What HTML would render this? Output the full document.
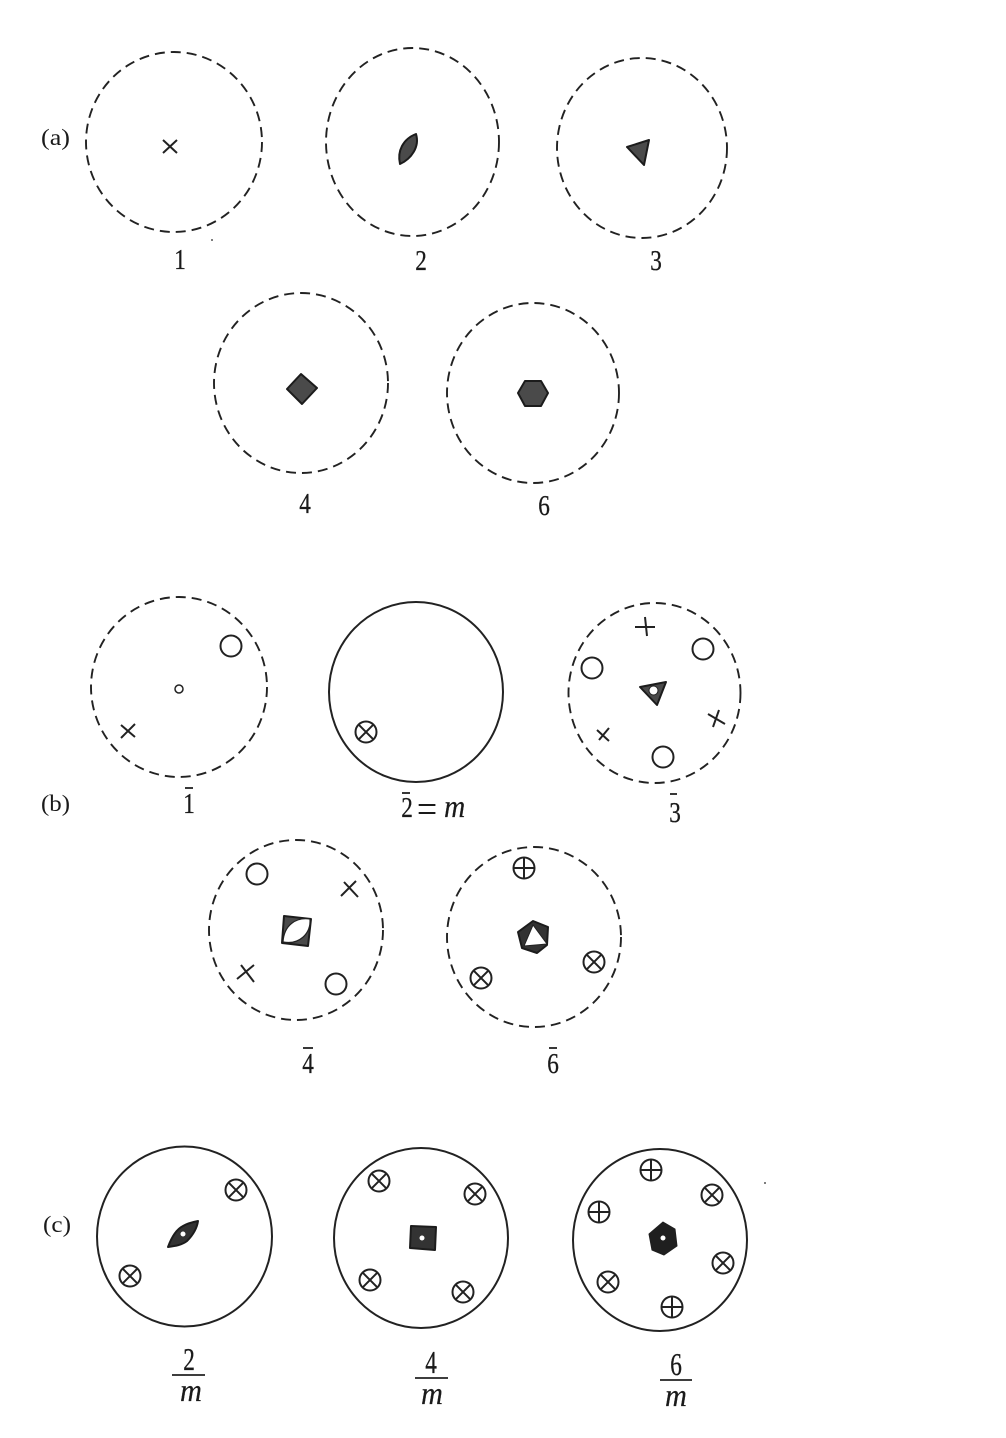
<!DOCTYPE html>
<html><head><meta charset="utf-8"><style>
html,body{margin:0;padding:0;background:#fff}
svg{display:block}
text{font-family:"Liberation Serif",serif;fill:#1a1a1a}
.n{font-size:29px;text-anchor:middle;stroke:#1a1a1a;stroke-width:.3}
.l{font-size:23px}
.i{font-style:italic;font-size:32px;stroke:#1a1a1a;stroke-width:.2}
.d{fill:none;stroke:#222;stroke-width:1.9;stroke-dasharray:10 6}
.s{fill:none;stroke:#222;stroke-width:2}
.o{fill:#fff;stroke:#222;stroke-width:2}
.k{fill:#4a4a4a;stroke:#1c1c1c;stroke-width:2;stroke-linejoin:round}
.x{stroke:#222;stroke-width:2;fill:none}
.b{stroke:#222;stroke-width:1.8;fill:none}
</style></head><body>
<svg width="1006" height="1438" viewBox="0 0 1006 1438" xmlns="http://www.w3.org/2000/svg">
<defs>
<g id="cx"><circle r="10.5" class="o"/><path class="x" d="M-7.4-7.4L7.4 7.4M7.4-7.4L-7.4 7.4"/></g>
<g id="cp"><circle r="10.5" class="o"/><path class="x" d="M-10.5 0H10.5M0-10.5V10.5"/></g>
</defs>

<!-- (a) -->
<text class="l" x="41" y="145" textLength="29" lengthAdjust="spacingAndGlyphs">(a)</text>
<ellipse class="d" cx="174" cy="142" rx="88" ry="90"/>
<path class="x" d="M163 140L177 153M177 140L163 153"/>
<ellipse class="d" cx="412.5" cy="142" rx="86.5" ry="94"/>
<path class="k" d="M416 134C420 147 411 159 400 164C397 151 403 139 416 134Z"/>
<ellipse class="d" cx="642" cy="148" rx="85" ry="90"/>
<path class="k" d="M627 147L649 140L644 165Z"/>
<ellipse class="d" cx="301" cy="383" rx="87" ry="90"/>
<path class="k" d="M301 374L317 388L302 404L287 389Z"/>
<ellipse class="d" cx="533" cy="393" rx="86" ry="90"/>
<path class="k" d="M525 381H541L548 393L541 406H525L518 393Z"/>
<text class="n" transform="translate(180 269) scale(.8 1)">1</text>
<text class="n" transform="translate(421 270) scale(.8 1)">2</text>
<text class="n" transform="translate(656 270) scale(.8 1)">3</text>
<text class="n" transform="translate(305 513) scale(.8 1)">4</text>
<text class="n" transform="translate(544 515) scale(.8 1)">6</text>

<!-- (b) -->
<text class="l" x="41" y="811" textLength="29" lengthAdjust="spacingAndGlyphs">(b)</text>
<ellipse class="d" cx="179" cy="687" rx="88" ry="90"/>
<circle class="o" cx="231" cy="646" r="10.5"/>
<circle class="o" cx="179" cy="689" r="4" style="stroke-width:1.5"/>
<path class="x" d="M121 725L135 737M135 724L121 738"/>
<ellipse class="s" cx="416" cy="692" rx="87" ry="90"/>
<use href="#cx" x="366" y="732"/>
<ellipse class="d" cx="654.5" cy="693" rx="86" ry="90"/>
<path class="x" d="M635 627H655M645 617L647 636"/>
<circle class="o" cx="703" cy="649" r="10.5"/>
<circle class="o" cx="592" cy="668" r="10.5"/>
<path class="x" d="M708 714L725 724M719 710L713 727"/>
<path class="x" d="M597 730L609 741M609 728L599 740"/>
<circle class="o" cx="663" cy="757" r="10.5"/>
<path class="k" d="M640 687L666 682L657 705Z"/>
<circle cx="653.5" cy="690.5" r="4.5" fill="#fff" stroke="#222" stroke-width="1"/>

<ellipse class="d" cx="296" cy="930" rx="87" ry="90"/>
<circle class="o" cx="257" cy="874" r="10.5"/>
<path class="x" d="M341 896L356 881M344 882L358 897"/>
<path class="x" d="M237 979L254 965M241 965L254 982"/>
<circle class="o" cx="336" cy="984" r="10.5"/>
<path class="k" d="M284 916L311 919L308 946L282 943Z"/>
<path d="M283 942C284 925 296 917 310 919C311 934 299 945 283 942Z" fill="#fff" stroke="#222" stroke-width="1.2"/>
<ellipse class="d" cx="534" cy="937" rx="87" ry="90"/>
<use href="#cp" x="524" y="868"/>
<use href="#cx" x="481" y="978"/>
<use href="#cx" x="594" y="962"/>
<path class="k" d="M533 921L548 927L547 945L537 953L522 948L518 932Z" style="fill:#333"/>
<path d="M533 925L547 944L524 946Z" fill="#fff" stroke="#222" stroke-width="1"/>

<text class="n" transform="translate(189 813) scale(.8 1)">1</text>
<path class="b" d="M185 788H193"/>
<text class="n" transform="translate(407 817) scale(.8 1)">2</text>
<path class="b" d="M402 793H410"/>
<text class="n" transform="translate(427 822) scale(1.2 1.3)" style="font-size:30px;stroke:none">=</text>
<text class="i" transform="translate(444 817) scale(.92 1)">m</text>
<text class="n" transform="translate(675 822) scale(.8 1)">3</text>
<path class="b" d="M670 794H677"/>
<text class="n" transform="translate(308 1073) scale(.8 1)">4</text>
<path class="b" d="M303 1048H313"/>
<text class="n" transform="translate(553 1073) scale(.8 1)">6</text>
<path class="b" d="M549 1048H557"/>

<!-- (c) -->
<text class="l" x="43" y="1232" textLength="28" lengthAdjust="spacingAndGlyphs">(c)</text>
<ellipse class="s" cx="184.5" cy="1236.5" rx="87.5" ry="90"/>
<use href="#cx" x="236" y="1190"/>
<use href="#cx" x="130" y="1276"/>
<path class="k" d="M168 1247C172 1236 177 1229 183 1226C188 1223 193 1222 198 1221C197 1228 193 1235 187 1241C182 1245 175 1246 168 1247Z" style="fill:#333"/>
<circle cx="183" cy="1234" r="2.5" fill="#fff"/>
<ellipse class="s" cx="421" cy="1238" rx="87" ry="90"/>
<use href="#cx" x="379" y="1181"/>
<use href="#cx" x="475" y="1194"/>
<use href="#cx" x="370" y="1280"/>
<use href="#cx" x="463" y="1292"/>
<path class="k" d="M411 1226L436 1227L435 1250L410 1248Z" style="fill:#333"/>
<circle cx="422" cy="1238" r="2.5" fill="#fff"/>
<ellipse class="s" cx="660" cy="1240" rx="87" ry="91"/>
<use href="#cp" x="651" y="1170"/>
<use href="#cx" x="712" y="1195"/>
<use href="#cp" x="599" y="1212"/>
<use href="#cx" x="723" y="1263"/>
<use href="#cx" x="608" y="1282"/>
<use href="#cp" x="672" y="1307"/>
<path d="M663 1222L675 1229L677 1246L664 1255L652 1250L649 1234Z" fill="#1f1f1f" stroke="#1f1f1f" stroke-linejoin="round"/>
<circle cx="663" cy="1238" r="2.5" fill="#fff"/>

<text class="n" transform="translate(189 1370) scale(.8 1.1)">2</text>
<path class="b" d="M172 1375H205"/>
<text class="i" transform="translate(180 1401) scale(.95 1)">m</text>
<text class="n" transform="translate(431 1373) scale(.8 1.1)">4</text>
<path class="b" d="M415 1378H448"/>
<text class="i" transform="translate(421 1404) scale(.95 1)">m</text>
<text class="n" transform="translate(676 1375) scale(.8 1.1)">6</text>
<path class="b" d="M660 1380H692"/>
<text class="i" transform="translate(665 1406) scale(.95 1)">m</text>
<circle cx="212" cy="240" r="1" fill="#555"/>
<circle cx="765" cy="1183" r="1" fill="#555"/>
</svg>
</body></html>
